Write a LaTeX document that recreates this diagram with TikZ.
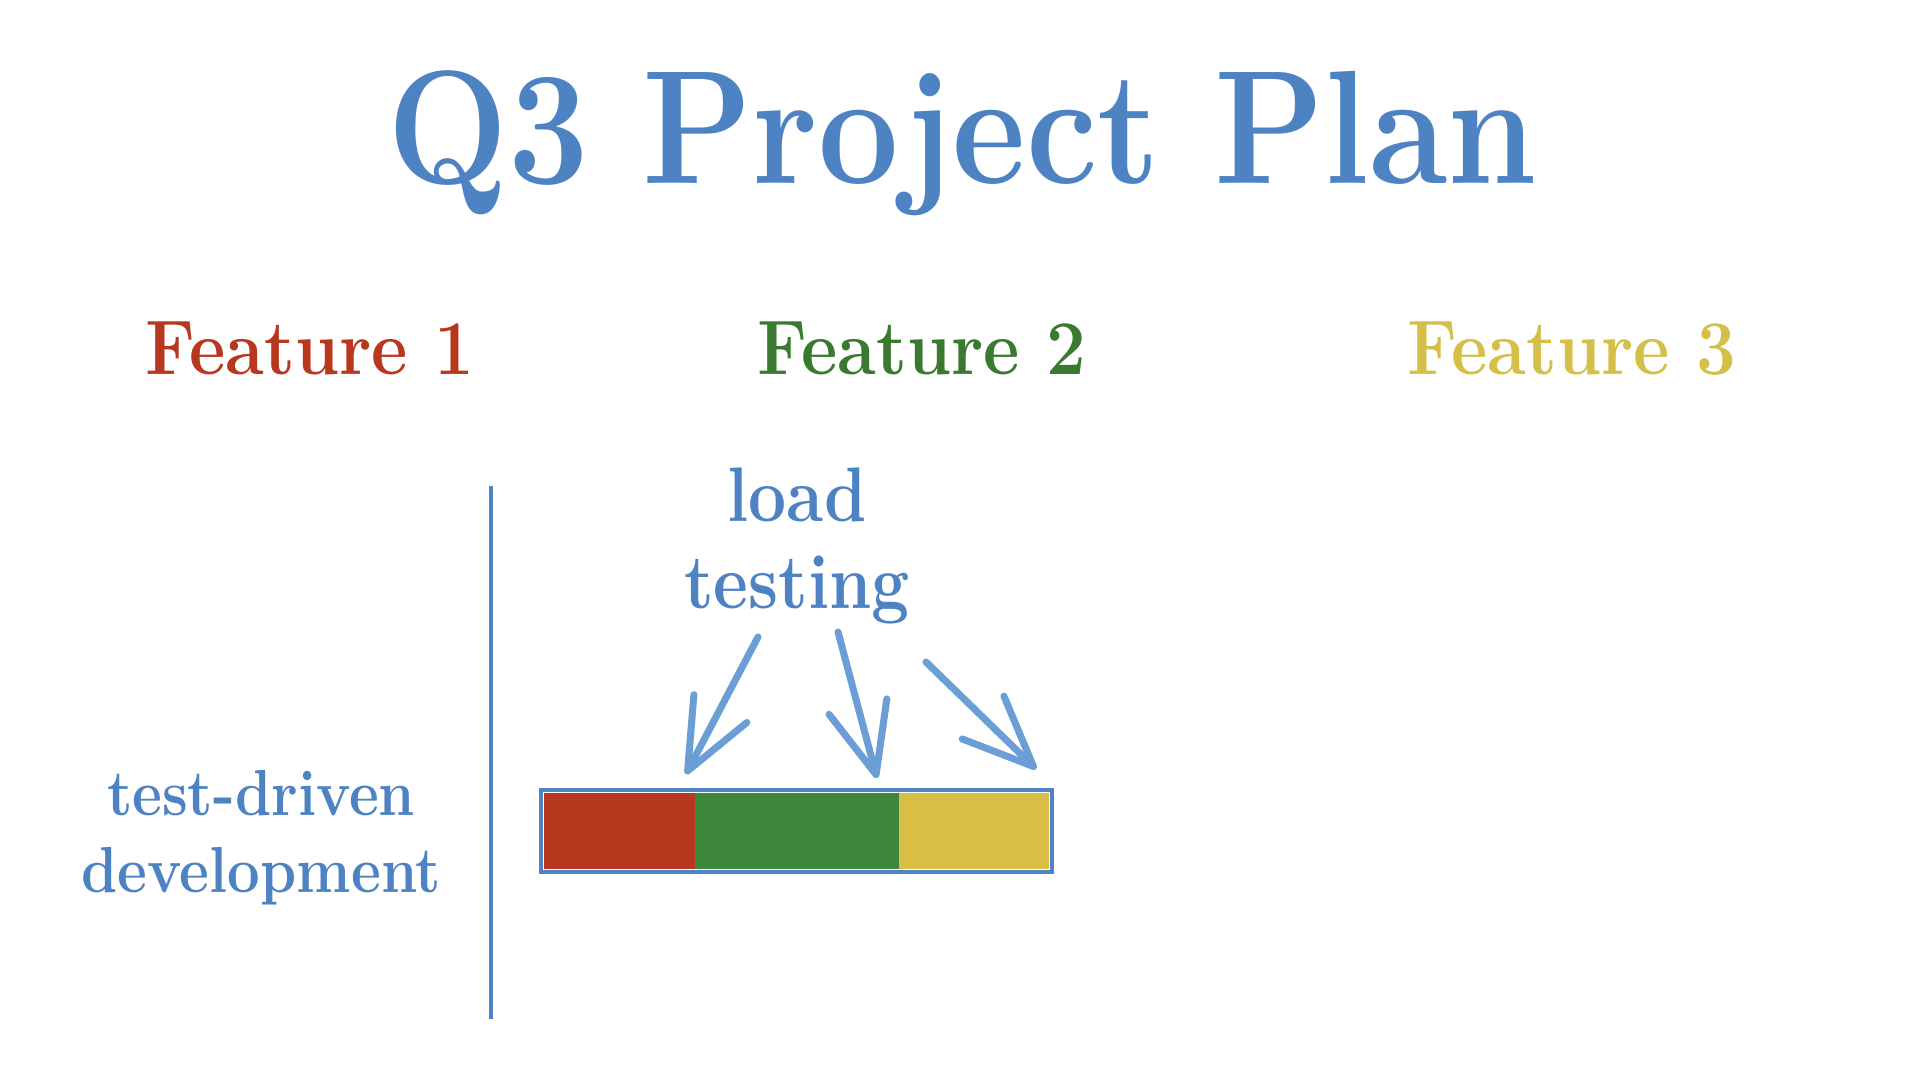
\documentclass[tikz,border=0pt]{standalone}
\usepackage{fontspec}
\usepackage{graphicx}
\usetikzlibrary{arrows.meta}

\definecolor{planblue}{HTML}{4D82C3}
\definecolor{arrowblue}{HTML}{6C9ED6}
\definecolor{featred}{HTML}{B8371F}
\definecolor{featgreen}{HTML}{3A7A2F}
\definecolor{featyellow}{HTML}{D6BF48}
\definecolor{bargreen}{HTML}{3D883A}
\definecolor{baryellow}{HTML}{D8BD46}

\newcommand{\squeezetext}[2]{\scalebox{#1}[1]{#2}}

\tikzset{
  feature/.style={anchor=base, inner sep=0pt, font=\bfseries\fontsize{22}{24}\selectfont},
  sketcharrow/.style={draw=arrowblue, line width=2pt, line cap=round,
    -{Straight Barb[length=20pt,width=17pt,round]}},
}

\begin{document}
\begin{tikzpicture}[x=0.01cm, y=-0.01cm]
\useasboundingbox[fill=white] (0,0) rectangle (1920,1080);

\node[anchor=base, inner sep=0pt, text=planblue,
  font=\bfseries\fontsize{46}{50}\selectfont] (title) at (962,184) {\squeezetext{0.885}{Q3 Project Plan}};

\node[feature, text=featred] (featA) at (310,375) {\squeezetext{0.913}{Feature 1}};
\node[feature, text=featgreen] (featB) at (922,375) {\squeezetext{0.913}{Feature 2}};
\node[feature, text=featyellow] (featC) at (1572,375) {\squeezetext{0.913}{Feature 3}};

\node[inner sep=0pt, align=center, text=planblue,
  font=\bfseries\fontsize{22}{24.5}\selectfont] (load) at (797,546)
  {\squeezetext{0.875}{load}\\\squeezetext{0.875}{testing}};

\node[inner sep=0pt, align=center, text=planblue,
  font=\bfseries\fontsize{18.5}{22}\selectfont] (tdd) at (261,838)
  {\squeezetext{0.892}{test-driven}\\\squeezetext{0.892}{development}};

% divider
\coordinate (divtop) at (491,486);
\coordinate (divbot) at (491,1019);
\draw[planblue, line width=0.9pt] (divtop) -- (divbot);

% bar
\fill[featred] (544,793) rectangle (695,869);
\fill[bargreen] (695,793) rectangle (899,869);
\fill[baryellow] (899,793) rectangle (1049,869);
\draw[planblue, line width=1pt] (541,790) rectangle (1052,872);

% arrows
\coordinate (tailA) at (758,637);
\coordinate (tipA) at (686,774);
\coordinate (tailB) at (838,632);
\coordinate (tipB) at (877,778);
\coordinate (tailC) at (926,662);
\coordinate (tipC) at (1036,769);
\draw[sketcharrow] (tailA) -- (tipA);
\draw[sketcharrow] (tailB) -- (tipB);
\draw[sketcharrow] (tailC) -- (tipC);

\end{tikzpicture}
\end{document}
